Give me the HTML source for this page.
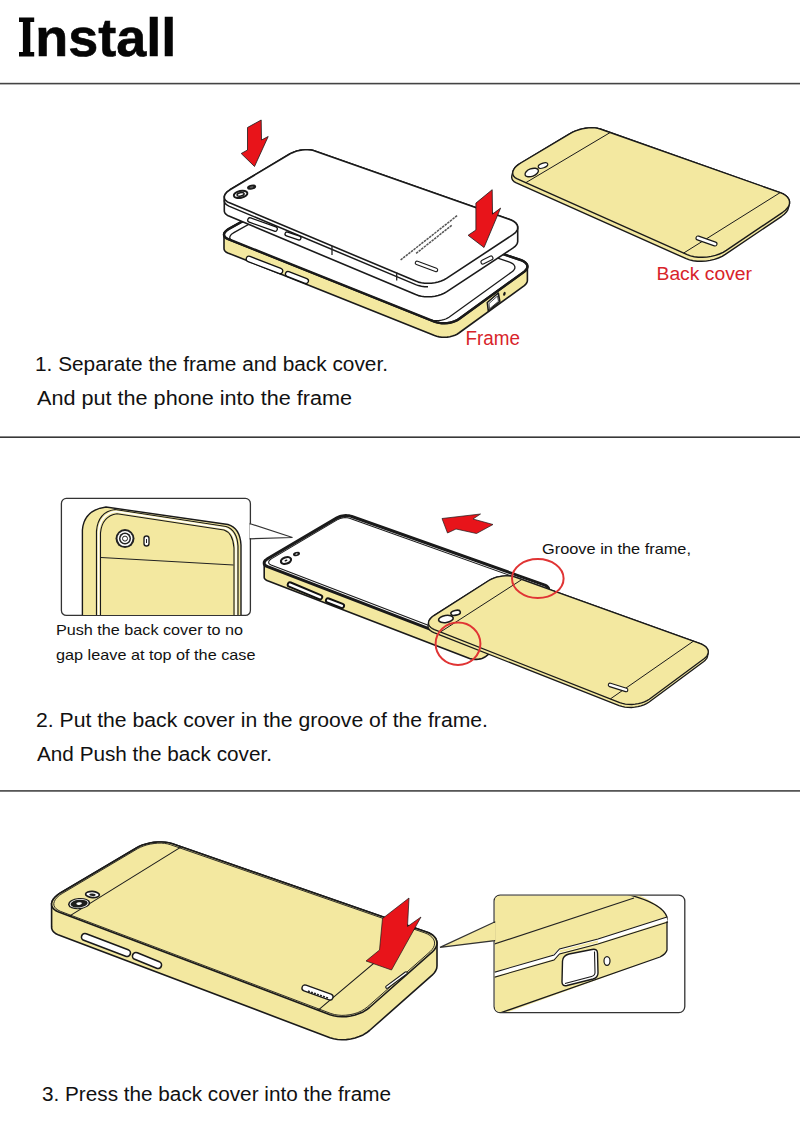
<!DOCTYPE html>
<html><head><meta charset="utf-8"><style>
html,body{margin:0;padding:0;background:#fff;}
svg{display:block}
text{font-family:"Liberation Sans",sans-serif;}
</style></head><body>
<svg width="800" height="1143" viewBox="0 0 800 1143">
<rect width="800" height="1143" fill="#fff"/>
<path d="M19,17.6 H34.2 V22 H30.3 V52 H34.2 V56.4 H19 V52 H22.9 V22 H19 Z" fill="#050505"/>
<text x="35.3" y="56.3" font-size="53" font-weight="bold" fill="#050505" stroke="#050505" stroke-width="0.6" textLength="141" lengthAdjust="spacingAndGlyphs">nstall</text>
<rect x="0" y="82.8" width="800" height="1.6" fill="#444"/>
<rect x="0" y="436.4" width="800" height="1.6" fill="#383838"/>
<rect x="0" y="790.1" width="800" height="1.6" fill="#444"/>
<text x="35" y="371.3" font-size="19.5" fill="#111" textLength="353" lengthAdjust="spacingAndGlyphs">1. Separate the frame and back cover.</text>
<text x="37" y="404.5" font-size="19.5" fill="#111" textLength="315" lengthAdjust="spacingAndGlyphs">And put the phone into the frame</text>
<text x="36" y="727" font-size="19.5" fill="#111" textLength="452" lengthAdjust="spacingAndGlyphs">2. Put the back cover in the groove of the frame.</text>
<text x="37" y="760.8" font-size="19.5" fill="#111" textLength="235" lengthAdjust="spacingAndGlyphs">And Push the back cover.</text>
<text x="42" y="1101.3" font-size="19.5" fill="#111" textLength="349" lengthAdjust="spacingAndGlyphs">3. Press the back cover into the frame</text>
<text x="656.5" y="279.6" font-size="18" fill="#d8232a" textLength="95.5" lengthAdjust="spacingAndGlyphs">Back cover</text>
<text x="465.5" y="345.3" font-size="20.5" fill="#d8232a" textLength="54.5" lengthAdjust="spacingAndGlyphs">Frame</text>
<text x="542" y="553.8" font-size="15" fill="#111" textLength="149" lengthAdjust="spacingAndGlyphs">Groove in the frame,</text>
<text x="56" y="634.8" font-size="15" fill="#111" textLength="187" lengthAdjust="spacingAndGlyphs">Push the back cover to no</text>
<text x="56" y="660.4" font-size="15" fill="#111" textLength="199.5" lengthAdjust="spacingAndGlyphs">gap leave at top of the case</text>
<path d="M224.0,234.3 L224.3,233.2 L225.0,232.1 L226.0,231.0 L227.3,229.9 L228.8,228.9 L294.2,192.5 L295.9,191.7 L297.7,190.9 L299.7,190.3 L301.8,189.9 L304.0,189.6 L306.2,189.4 L308.3,189.4 L310.3,189.6 L312.2,189.9 L313.9,190.3 L520.6,260.0 L522.6,260.8 L524.2,261.7 L525.6,262.8 L526.6,264.0 L527.2,265.2 L527.4,266.5 L527.4,280.5 L527.2,281.8 L526.6,283.1 L525.6,284.4 L524.3,285.6 L458.9,333.0 L457.1,334.2 L454.9,335.2 L452.5,336.1 L449.9,336.7 L447.2,337.1 L444.5,337.2 L441.8,337.2 L439.2,336.9 L436.7,336.3 L434.5,335.6 L227.8,252.9 L226.3,252.2 L225.3,251.4 L224.5,250.4 L224.1,249.4 L224.0,248.3Z" fill="#f3e8a0" stroke="#1a1a1a" stroke-width="1.6"/>
<path d="M434.5,321.6 L436.7,322.3 L439.2,322.9 L441.8,323.2 L444.5,323.2 L447.2,323.1 L449.9,322.7 L452.5,322.0 L454.9,321.2 L457.1,320.2 L459.0,319.0 L524.3,271.6 L525.6,270.4 L526.6,269.1 L527.2,267.8 L527.4,266.5 L527.2,265.2 L526.6,264.0 L525.6,262.8 L524.2,261.7 L522.6,260.8 L520.6,260.0 L313.9,190.3 L312.2,189.9 L310.3,189.6 L308.3,189.4 L306.2,189.4 L304.0,189.6 L301.8,189.9 L299.7,190.3 L297.7,190.9 L295.9,191.7 L294.2,192.5 L228.9,228.9 L227.3,229.9 L226.0,231.0 L225.0,232.1 L224.3,233.2 L224.0,234.3 L224.1,235.4 L224.5,236.5 L225.3,237.4 L226.4,238.2 L227.8,238.9Z" fill="#fff" stroke="#1a1a1a" stroke-width="2.2"/>
<path d="M429.1,319.4 L430.9,320.0 L432.9,320.4 L435.0,320.7 L437.2,320.7 L439.4,320.5 L441.6,320.2 L443.7,319.7 L445.7,319.0 L447.4,318.1 L449.0,317.2 L512.1,271.7 L513.3,270.8 L514.1,269.7 L514.7,268.7 L514.9,267.6 L514.8,266.5 L514.3,265.5 L513.6,264.5 L512.5,263.6 L511.2,262.9 L509.6,262.2 L313.1,195.2 L311.8,194.9 L310.3,194.6 L308.6,194.5 L306.9,194.5 L305.1,194.7 L303.3,195.0 L301.6,195.3 L299.9,195.9 L298.3,196.5 L296.9,197.2 L233.9,232.6 L232.6,233.5 L231.5,234.3 L230.6,235.3 L230.1,236.2 L229.8,237.1 L229.8,238.0 L230.1,238.9 L230.7,239.6 L231.6,240.3 L232.7,240.9Z" fill="#fff" stroke="#1a1a1a" stroke-width="1.3"/>
<path d="M434.5,321.6 L436.7,322.3 L439.2,322.9 L441.8,323.2 L444.5,323.2 L447.2,323.1 L449.9,322.7 L452.5,322.0 L454.9,321.2 L457.1,320.2 L459.0,319.0 L524.3,271.6 L525.6,270.4 L526.6,269.1 L527.2,267.8 L527.4,266.5 L527.2,265.2 L526.6,264.0 L525.6,262.8 L524.2,261.7 L522.6,260.8 L520.6,260.0 L313.9,190.3 L312.2,189.9 L310.3,189.6 L308.3,189.4 L306.2,189.4 L304.0,189.6 L301.8,189.9 L299.7,190.3 L297.7,190.9 L295.9,191.7 L294.2,192.5 L228.9,228.9 L227.3,229.9 L226.0,231.0 L225.0,232.1 L224.3,233.2 L224.0,234.3 L224.1,235.4 L224.5,236.5 L225.3,237.4 L226.4,238.2 L227.8,238.9Z" fill="none" stroke="#1a1a1a" stroke-width="2.4"/>
<rect x="-19.4" y="-2.8" width="38.7" height="5.5" rx="2.8" transform="translate(264.5,265.0) rotate(21.16)" fill="#fff" stroke="#111" stroke-width="1.3"/>
<rect x="-12.2" y="-2.5" width="24.3" height="5.0" rx="2.5" transform="translate(297.0,277.5) rotate(21.25)" fill="#fff" stroke="#111" stroke-width="1.3"/>
<path d="M487.3,302.5 L498.3,293 L499.8,301.5 L488.3,311 Z" fill="#fff" stroke="#1a1a1a" stroke-width="1.6" stroke-linejoin="round"/>
<path d="M489,303.5 L497.5,296 L498.5,301.3 L489.5,308.8 Z" fill="none" stroke="#1a1a1a" stroke-width="0.8" stroke-linejoin="round"/>
<ellipse cx="504.4" cy="293.8" rx="1.2" ry="2" transform="rotate(20 504.4 293.8)" fill="#1a1a1a"/>
<clipPath id="bc1"><rect x="0" y="0" width="428" height="400"/></clipPath>
<path d="M224.3,196.8 L224.7,195.3 L225.4,193.9 L226.6,192.4 L228.2,191.1 L230.0,189.8 L289.8,154.0 L291.9,152.9 L294.2,151.9 L296.8,151.1 L299.5,150.4 L302.3,150.0 L305.0,149.8 L307.7,149.7 L310.3,149.9 L312.7,150.3 L314.8,150.9 L509.7,219.5 L512.2,220.6 L514.3,221.8 L515.9,223.2 L517.0,224.8 L517.6,226.4 L517.7,228.1 L517.7,241.6 L517.3,243.3 L516.3,245.0 L514.8,246.7 L512.8,248.2 L446.5,291.9 L444.1,293.3 L441.2,294.5 L438.1,295.5 L434.9,296.2 L431.4,296.7 L428.0,296.8 L424.6,296.7 L421.4,296.3 L418.4,295.6 L415.7,294.6 L228.9,216.1 L227.2,215.2 L225.9,214.2 L224.9,213.0 L224.4,211.7 L224.3,210.3Z" fill="#fff" stroke="#1a1a1a" stroke-width="1.6" stroke-linejoin="round"/>
<path d="M415.7,284.6 L418.4,285.6 L421.4,286.3 L424.6,286.7 L428.0,286.8 L431.4,286.7 L434.8,286.2 L438.1,285.5 L441.2,284.5 L444.1,283.3 L446.5,281.9 L512.8,238.2 L514.8,236.7 L516.3,235.0 L517.3,233.3 L517.7,231.6 L517.6,229.9 L517.0,228.3 L515.9,226.7 L514.3,225.3 L512.2,224.1 L509.7,223.0 L314.8,154.4 L312.7,153.8 L310.3,153.4 L307.7,153.2 L305.0,153.2 L302.3,153.5 L299.5,153.9 L296.8,154.6 L294.2,155.4 L291.9,156.4 L289.7,157.5 L230.0,193.3 L228.2,194.6 L226.6,195.9 L225.4,197.4 L224.7,198.8 L224.3,200.3 L224.4,201.7 L224.9,203.0 L225.9,204.2 L227.2,205.2 L228.9,206.1Z" fill="none" stroke="#1a1a1a" stroke-width="1.5" clip-path="url(#bc1)"/>
<path d="M415.7,281.1 L418.4,282.1 L421.4,282.8 L424.6,283.2 L428.0,283.3 L431.4,283.2 L434.8,282.7 L438.1,282.0 L441.2,281.0 L444.1,279.8 L446.5,278.4 L512.8,234.7 L514.8,233.2 L516.3,231.5 L517.3,229.8 L517.7,228.1 L517.6,226.4 L517.0,224.8 L515.9,223.2 L514.3,221.8 L512.2,220.6 L509.7,219.5 L314.8,150.9 L312.7,150.3 L310.3,149.9 L307.7,149.7 L305.0,149.7 L302.3,150.0 L299.5,150.4 L296.8,151.1 L294.2,151.9 L291.9,152.9 L289.7,154.0 L230.0,189.8 L228.2,191.1 L226.6,192.4 L225.4,193.9 L224.7,195.3 L224.3,196.8 L224.4,198.2 L224.9,199.5 L225.9,200.7 L227.2,201.7 L228.9,202.6Z" fill="#fff" stroke="#1a1a1a" stroke-width="1.6" stroke-linejoin="round"/>
<rect x="-15.5" y="-2.2" width="31.1" height="4.5" rx="2.2" transform="translate(262.5,224.5) rotate(19.80)" fill="#fff" stroke="#111" stroke-width="1.3"/>
<rect x="-8.3" y="-2.0" width="16.6" height="4.0" rx="2.0" transform="translate(293.0,236.0) rotate(18.43)" fill="#fff" stroke="#111" stroke-width="1.3"/>
<line x1="332" y1="246" x2="332" y2="255" stroke="#222" stroke-width="1.3"/>
<line x1="396.7" y1="272.5" x2="396.7" y2="280.5" stroke="#222" stroke-width="1.3"/>
<ellipse cx="240.6" cy="194.4" rx="6.9" ry="3.5" transform="rotate(-12 240.6 194.4)" fill="#fff" stroke="#1a1a1a" stroke-width="2"/>
<ellipse cx="240.6" cy="194.4" rx="3.6" ry="1.7" transform="rotate(-12 240.6 194.4)" fill="#fff" stroke="#1a1a1a" stroke-width="1.5"/>
<ellipse cx="251.6" cy="187.2" rx="4.6" ry="2.4" transform="rotate(-12 251.6 187.2)" fill="#1a1a1a"/>
<ellipse cx="251.6" cy="187.2" rx="2" ry="1" transform="rotate(-12 251.6 187.2)" fill="#555"/>
<rect x="-11.9" y="-1.8" width="23.7" height="3.5" rx="1.8" transform="translate(426.5,266.5) rotate(20.22)" fill="#fff" stroke="#1a1a1a" stroke-width="1.1"/>
<rect x="-6.5" y="-2.0" width="12.9" height="4.0" rx="2.0" transform="translate(487.0,260.0) rotate(-26.57)" fill="#fff" stroke="#1a1a1a" stroke-width="1.1"/>
<line x1="400.6" y1="260" x2="457.3" y2="215.5" stroke="#555" stroke-width="1.5" stroke-dasharray="2.5 0.8"/>
<line x1="416.1" y1="253.4" x2="451.7" y2="225.3" stroke="#555" stroke-width="1.5" stroke-dasharray="2.5 0.8"/>
<polygon points="247.5,127.5 261.2,120.0 261.5,140.0 268.2,136.5 254.5,166.5 241.2,153.5 247.5,150.0" fill="#e8141a" stroke="#1a1a1a" stroke-width="0.8" stroke-linejoin="miter"/>
<polygon points="475.9,203.1 492.2,189.7 492.5,214.1 500.6,208.1 484.0,247.5 468.1,235.3 475.9,230.0" fill="#e8141a" stroke="#1a1a1a" stroke-width="0.8"/>
<path d="M511.7,177.5 L511.8,175.8 L512.8,171.8 L513.5,170.0 L514.6,168.1 L516.3,166.3 L518.3,164.6 L520.8,163.0 L570.0,133.6 L572.7,132.1 L575.6,130.8 L578.8,129.8 L582.1,128.9 L585.4,128.3 L588.7,127.9 L591.9,127.8 L595.0,127.9 L597.7,128.3 L600.2,129.0 L780.2,192.7 L783.2,193.9 L785.7,195.5 L787.6,197.3 L788.9,199.3 L789.5,201.4 L789.5,203.6 L788.5,207.6 L787.8,209.9 L786.4,212.1 L784.3,214.3 L781.7,216.3 L725.3,254.4 L722.1,256.4 L718.4,258.0 L714.4,259.4 L710.1,260.4 L705.8,261.1 L701.5,261.3 L697.2,261.2 L693.2,260.7 L689.5,259.9 L686.2,258.7 L516.3,182.9 L514.4,181.9 L513.0,180.6 L512.1,179.1Z" fill="#f3e8a0" stroke="#1a1a1a" stroke-width="1.4" stroke-linejoin="round"/>
<path d="M687.2,254.7 L690.5,255.9 L694.2,256.7 L698.2,257.2 L702.5,257.3 L706.8,257.1 L711.2,256.4 L715.4,255.4 L719.4,254.0 L723.1,252.4 L726.3,250.4 L782.7,212.3 L785.3,210.3 L787.4,208.1 L788.8,205.9 L789.5,203.6 L789.5,201.4 L788.9,199.3 L787.6,197.3 L785.7,195.5 L783.2,193.9 L780.2,192.6 L600.2,129.0 L597.7,128.3 L595.0,127.9 L591.9,127.8 L588.7,127.9 L585.4,128.3 L582.1,128.9 L578.8,129.8 L575.6,130.9 L572.7,132.1 L570.0,133.6 L520.8,163.0 L518.3,164.6 L516.3,166.3 L514.6,168.1 L513.5,170.0 L512.8,171.8 L512.7,173.5 L513.1,175.1 L514.0,176.6 L515.4,177.9 L517.3,178.9Z" fill="#f3e8a0" stroke="#1a1a1a" stroke-width="1.4" stroke-linejoin="round"/>
<line x1="525.8" y1="182.7" x2="610.2" y2="132.5" stroke="#1a1a1a" stroke-width="1"/>
<line x1="683.6" y1="253.1" x2="780.2" y2="192.6" stroke="#1a1a1a" stroke-width="1"/>
<ellipse cx="531.7" cy="172.5" rx="7" ry="3.8" transform="rotate(-20 531.7 172.5)" fill="#fff" stroke="#1a1a1a" stroke-width="1.4"/>
<ellipse cx="543" cy="165.6" rx="5" ry="2.3" transform="rotate(-20 543 165.6)" fill="#fff" stroke="#1a1a1a" stroke-width="1.2"/>
<rect x="-11.0" y="-2.0" width="22.0" height="4.0" rx="2.0" transform="translate(706.5,241.0) rotate(19.44)" fill="#fff" stroke="#1a1a1a" stroke-width="1.1"/>
<rect x="61.4" y="498.4" width="189" height="117" rx="5" fill="#fff" stroke="#333" stroke-width="1.3"/>
<clipPath id="cb2"><rect x="62" y="499" width="188" height="116" rx="4"/></clipPath>
<g clip-path="url(#cb2)">
<path d="M82.4,620 L82.4,530 Q84,510 106,507 L228,524.5 Q240,528 241,545 L241,620 Z" fill="#f3e8a0" stroke="#1a1a1a" stroke-width="1.4"/>
<path d="M96.5,620 L96.5,531 Q98,512 115,509.5 L226,526.5 Q237,530 238,546 L238,620 Z" fill="none" stroke="#1a1a1a" stroke-width="1.2"/>
<path d="M98.5,620 L98.5,532 Q100,514 116,511.6 L225,528.3 Q235,531.5 236,547 L236,620" fill="none" stroke="#fff" stroke-width="1.5"/>
<path d="M100.5,620 L100.5,533 Q102,516 117,513.7 L224,530 Q233,533 234,548 L234,620 Z" fill="#f3e8a0" stroke="#1a1a1a" stroke-width="1.1"/>
<line x1="101" y1="557.5" x2="233.5" y2="565" stroke="#222" stroke-width="1.1"/>
<circle cx="125" cy="538.6" r="9.5" fill="#222"/><circle cx="125" cy="538.6" r="7.5" fill="#fff"/><circle cx="125" cy="538.6" r="6" fill="#222"/><circle cx="125" cy="538.6" r="4.5" fill="#fff"/><circle cx="125" cy="538.6" r="2.5" fill="#fff" stroke="#222" stroke-width="1"/>
<rect x="144" y="536" width="5" height="10" rx="2.5" fill="#fff" stroke="#222" stroke-width="1.4"/><line x1="146.5" y1="539" x2="146.5" y2="543" stroke="#222" stroke-width="1"/>
</g>
<polygon points="250.2,523.7 292.5,537.5 250.2,538.8" fill="#fff" stroke="#333" stroke-width="1.2" stroke-linejoin="miter"/>
<line x1="250.4" y1="524.6" x2="250.4" y2="538" stroke="#fff" stroke-width="1.6"/>
<path d="M264.2,563.1 L264.3,562.2 L264.7,561.3 L265.4,560.4 L266.4,559.6 L267.5,558.8 L336.9,517.9 L338.1,517.3 L339.5,516.7 L341.0,516.3 L342.6,516.0 L344.2,515.7 L345.9,515.6 L347.5,515.7 L349.1,515.8 L350.5,516.1 L351.8,516.5 L544.0,584.8 L545.4,585.4 L546.5,586.0 L547.4,586.8 L548.1,587.6 L548.6,588.5 L548.7,589.5 L548.7,603.5 L548.6,604.4 L548.3,605.3 L547.7,606.2 L546.8,607.0 L486.2,656.2 L484.9,657.0 L483.5,657.8 L481.9,658.4 L480.2,658.9 L478.3,659.2 L476.5,659.4 L474.6,659.4 L472.8,659.2 L471.1,658.9 L469.6,658.4 L267.6,580.7 L266.4,580.2 L265.4,579.5 L264.7,578.8 L264.3,578.0 L264.2,577.1Z" fill="#f3e8a0" stroke="#1a1a1a" stroke-width="1.6"/>
<path d="M469.6,644.4 L471.1,644.9 L472.8,645.2 L474.6,645.4 L476.5,645.4 L478.3,645.2 L480.2,644.9 L481.9,644.4 L483.5,643.8 L484.9,643.1 L486.2,642.2 L546.8,593.0 L547.7,592.2 L548.3,591.3 L548.6,590.4 L548.7,589.5 L548.6,588.5 L548.1,587.6 L547.4,586.8 L546.5,586.0 L545.4,585.4 L544.1,584.8 L351.8,516.5 L350.5,516.1 L349.0,515.8 L347.5,515.7 L345.9,515.6 L344.2,515.7 L342.6,516.0 L341.0,516.3 L339.5,516.7 L338.1,517.3 L336.9,517.9 L267.5,558.8 L266.4,559.6 L265.4,560.4 L264.7,561.3 L264.3,562.2 L264.2,563.1 L264.3,564.0 L264.7,564.8 L265.4,565.5 L266.4,566.2 L267.6,566.7Z" fill="#fff" stroke="#1a1a1a" stroke-width="3"/>
<path d="M471.9,641.9 L473.1,642.3 L474.3,642.6 L475.7,642.7 L477.1,642.7 L478.5,642.5 L479.9,642.3 L481.2,641.9 L482.5,641.4 L483.6,640.8 L484.5,640.2 L543.1,592.9 L543.7,592.3 L544.2,591.6 L544.5,590.9 L544.6,590.1 L544.5,589.4 L544.2,588.7 L543.7,588.1 L543.0,587.5 L542.2,587.0 L541.2,586.6 L349.5,518.3 L348.5,518.0 L347.4,517.8 L346.2,517.7 L344.9,517.6 L343.7,517.7 L342.4,517.9 L341.2,518.2 L340.0,518.5 L339.0,519.0 L338.0,519.4 L271.3,558.9 L270.4,559.5 L269.7,560.2 L269.1,560.9 L268.8,561.6 L268.7,562.2 L268.7,562.9 L269.0,563.5 L269.6,564.1 L270.3,564.6 L271.1,565.0Z" fill="#fff" stroke="#1a1a1a" stroke-width="1.1"/>
<rect x="-18.5" y="-2.2" width="37.0" height="4.5" rx="2.2" transform="translate(305.0,590.8) rotate(22.62)" fill="#fff" stroke="#111" stroke-width="1.9"/>
<rect x="-9.6" y="-2.1" width="19.2" height="4.2" rx="2.1" transform="translate(335.0,603.2) rotate(21.45)" fill="#fff" stroke="#111" stroke-width="1.9"/>
<ellipse cx="286" cy="560.5" rx="5.2" ry="3.2" transform="rotate(-18 286 560.5)" fill="#fff" stroke="#1a1a1a" stroke-width="2.2"/>
<ellipse cx="286" cy="560.5" rx="1.5" ry="0.9" transform="rotate(-18 286 560.5)" fill="#1a1a1a"/>
<ellipse cx="296.5" cy="554" rx="3.6" ry="2" transform="rotate(-18 296.5 554)" fill="#1a1a1a"/>
<ellipse cx="296.5" cy="554" rx="1.2" ry="0.6" transform="rotate(-18 296.5 554)" fill="#fff"/>
<path d="M428.0,626.2 L428.2,624.6 L428.7,621.6 L429.4,620.0 L430.5,618.5 L432.0,617.0 L433.9,615.6 L489.3,580.4 L491.5,579.1 L493.9,578.1 L496.6,577.2 L499.4,576.6 L502.4,576.1 L505.3,575.9 L508.2,575.9 L511.0,576.1 L513.5,576.6 L515.9,577.3 L700.3,643.7 L702.6,644.7 L704.7,645.9 L706.3,647.3 L707.4,648.8 L708.1,650.5 L708.3,652.2 L707.8,655.2 L707.4,656.9 L706.6,658.6 L705.3,660.2 L703.5,661.7 L648.8,702.2 L646.5,703.6 L643.9,704.9 L641.0,705.9 L637.9,706.7 L634.6,707.2 L631.3,707.5 L628.0,707.4 L624.8,707.1 L621.9,706.4 L619.1,705.6 L433.9,632.6 L431.9,631.6 L430.3,630.5 L429.1,629.1 L428.3,627.7Z" fill="#f3e8a0" stroke="#1a1a1a" stroke-width="1.3" stroke-linejoin="round"/>
<path d="M619.7,702.6 L622.4,703.4 L625.3,704.1 L628.5,704.4 L631.8,704.5 L635.1,704.2 L638.4,703.7 L641.5,702.9 L644.4,701.9 L647.0,700.6 L649.3,699.2 L704.0,658.7 L705.8,657.2 L707.1,655.6 L707.9,653.9 L708.3,652.2 L708.1,650.5 L707.4,648.8 L706.3,647.3 L704.7,645.9 L702.6,644.7 L700.3,643.7 L515.9,577.3 L513.6,576.6 L511.0,576.1 L508.2,575.9 L505.3,575.9 L502.4,576.1 L499.4,576.6 L496.6,577.2 L493.9,578.1 L491.5,579.1 L489.3,580.3 L433.9,615.6 L432.0,617.0 L430.5,618.5 L429.4,620.0 L428.7,621.6 L428.5,623.2 L428.8,624.7 L429.5,626.1 L430.8,627.5 L432.4,628.6 L434.4,629.6Z" fill="#f3e8a0" stroke="#1a1a1a" stroke-width="1.3" stroke-linejoin="round"/>
<line x1="440.4" y1="632.0" x2="521.9" y2="579.5" stroke="#1a1a1a" stroke-width="1"/>
<line x1="610.4" y1="698.9" x2="693.4" y2="641.2" stroke="#1a1a1a" stroke-width="1"/>
<ellipse cx="445.9" cy="619" rx="7.4" ry="3.6" transform="rotate(-9 445.9 619)" fill="#fff" stroke="#1a1a1a" stroke-width="1.6"/>
<ellipse cx="455.6" cy="612.8" rx="4.8" ry="2.4" transform="rotate(-12 455.6 612.8)" fill="#fff" stroke="#1a1a1a" stroke-width="1.6"/>
<rect x="-10.1" y="-1.8" width="20.3" height="3.5" rx="1.8" transform="translate(618.0,687.5) rotate(17.35)" fill="#fff" stroke="#1a1a1a" stroke-width="1.1"/>
<polygon points="442.0,518.5 480.5,514.0 473.0,519.0 493.0,524.5 476.5,533.5 456.0,529.0 447.5,533.0" fill="#e8141a" stroke="#1a1a1a" stroke-width="0.7"/>
<ellipse cx="537.8" cy="578.5" rx="25.8" ry="19.5" transform="rotate(0 537.8 578.5)" fill="none" stroke="#e03434" stroke-width="2"/>
<ellipse cx="458" cy="643.8" rx="22.4" ry="21.2" transform="rotate(0 458 643.8)" fill="none" stroke="#e03434" stroke-width="2"/>
<path d="M51.6,903.4 L52.2,901.2 L53.5,899.0 L55.4,896.8 L57.9,894.6 L60.8,892.7 L136.0,848.2 L139.1,846.5 L142.5,845.1 L146.2,844.0 L150.0,843.0 L153.9,842.4 L157.9,842.0 L161.7,842.0 L165.3,842.2 L168.7,842.8 L171.7,843.6 L426.5,931.9 L429.5,933.1 L432.1,934.7 L434.1,936.5 L435.7,938.5 L436.6,940.7 L437.0,943.0 L437.0,966.0 L436.7,968.4 L435.7,970.7 L434.2,973.0 L432.1,975.2 L369.5,1030.5 L366.5,1032.8 L363.1,1034.9 L359.2,1036.6 L355.1,1038.0 L350.7,1039.0 L346.3,1039.6 L341.9,1039.7 L337.6,1039.5 L333.6,1038.8 L330.0,1037.7 L58.7,935.1 L56.0,933.8 L53.9,932.2 L52.5,930.5 L51.7,928.5 L51.6,926.4Z" fill="#f3e8a0" stroke="#1a1a1a" stroke-width="1.6" stroke-linejoin="round"/>
<path d="M330.0,1014.7 L333.6,1015.8 L337.6,1016.5 L341.9,1016.7 L346.3,1016.6 L350.7,1016.0 L355.1,1015.0 L359.2,1013.6 L363.1,1011.9 L366.5,1009.8 L369.5,1007.5 L432.1,952.2 L434.2,950.0 L435.7,947.7 L436.7,945.4 L437.0,943.0 L436.6,940.7 L435.7,938.5 L434.1,936.5 L432.1,934.7 L429.5,933.2 L426.5,931.9 L171.7,843.6 L168.7,842.8 L165.3,842.2 L161.7,842.0 L157.9,842.0 L153.9,842.4 L150.0,843.0 L146.2,844.0 L142.5,845.1 L139.1,846.5 L136.0,848.2 L60.8,892.7 L57.9,894.6 L55.4,896.8 L53.5,899.0 L52.2,901.2 L51.6,903.4 L51.7,905.5 L52.5,907.5 L53.9,909.2 L56.0,910.8 L58.7,912.1Z" fill="#f3e8a0" stroke="#1a1a1a" stroke-width="1.6" stroke-linejoin="round"/>
<path d="M330.9,1013.5 L334.3,1014.5 L338.0,1015.1 L341.9,1015.4 L345.9,1015.2 L350.0,1014.7 L354.0,1013.8 L357.8,1012.6 L361.3,1011.0 L364.4,1009.1 L367.2,1007.1 L430.2,951.5 L432.1,949.5 L433.5,947.4 L434.3,945.3 L434.6,943.1 L434.3,941.0 L433.4,939.0 L431.9,937.2 L430.0,935.5 L427.6,934.1 L424.8,932.9 L170.4,844.7 L167.6,843.9 L164.5,843.4 L161.2,843.1 L157.7,843.2 L154.1,843.5 L150.5,844.1 L146.9,844.9 L143.6,846.0 L140.4,847.3 L137.6,848.7 L62.2,893.5 L59.5,895.3 L57.2,897.3 L55.5,899.3 L54.4,901.3 L53.8,903.3 L53.9,905.3 L54.7,907.1 L56.0,908.7 L58.0,910.1 L60.4,911.3Z" fill="none" stroke="#1a1a1a" stroke-width="0.9"/>
<line x1="69.4" y1="916.1" x2="181.2" y2="846.9" stroke="#1a1a1a" stroke-width="1.1"/>
<line x1="318.2" y1="1010.2" x2="415.5" y2="928.1" stroke="#1a1a1a" stroke-width="1.1"/>
<ellipse cx="79.1" cy="903.6" rx="11.2" ry="5.6" transform="rotate(-5 79.1 903.6)" fill="#1e1e1e"/>
<ellipse cx="79.1" cy="903.6" rx="9.6" ry="4.5" transform="rotate(-5 79.1 903.6)" fill="#fff"/>
<ellipse cx="79.1" cy="903.6" rx="8.6" ry="3.9" transform="rotate(-5 79.1 903.6)" fill="#1e1e1e"/>
<ellipse cx="79.1" cy="903.6" rx="2.8" ry="1.3" transform="rotate(-5 79.1 903.6)" fill="#fff"/>
<ellipse cx="92.5" cy="894.5" rx="6.9" ry="3.1" transform="rotate(4 92.5 894.5)" fill="#fff" stroke="#1a1a1a" stroke-width="1.7"/>
<ellipse cx="92.5" cy="894.8" rx="3.2" ry="1.3" transform="rotate(4 92.5 894.8)" fill="#222"/>
<rect x="-26.0" y="-3.5" width="51.9" height="7.0" rx="3.5" transform="translate(106.0,945.0) rotate(20.85)" fill="#fff" stroke="#1a1a1a" stroke-width="1.6"/>
<rect x="-15.4" y="-3.5" width="30.8" height="7.0" rx="3.5" transform="translate(147.0,960.5) rotate(22.25)" fill="#fff" stroke="#1a1a1a" stroke-width="1.6"/>
<rect x="-16.3" y="-3.0" width="32.6" height="6.0" rx="3.0" transform="translate(317.5,992.5) rotate(19.80)" fill="#fff" stroke="#1a1a1a" stroke-width="1.3"/>
<line x1="308" y1="991" x2="328" y2="998" stroke="#222" stroke-width="1.4" stroke-dasharray="2 1.2"/>
<rect x="-13.1" y="-1.2" width="26.1" height="2.5" rx="1.2" transform="translate(396.5,980.0) rotate(-36.38)" fill="#fff" stroke="#1a1a1a" stroke-width="1.1"/>
<polygon points="382.5,918.5 409.0,898.0 407.5,926.5 421.0,917.0 391.5,970.0 366.0,961.0 379.5,950.0" fill="#e8141a" stroke="#1a1a1a" stroke-width="0.7"/>
<rect x="494.1" y="895.1" width="190.7" height="117.5" rx="6" fill="#fff" stroke="#333" stroke-width="1.3"/>
<clipPath id="cb3"><rect x="494.8" y="895.8" width="189.3" height="116.1" rx="5"/></clipPath>
<g clip-path="url(#cb3)">
<path d="M490,890 L626,890 Q662,903 667,917 L667,950 Q666,954 660,957 L500,1015 L490,1015 Z" fill="#f3e8a0" stroke="none"/>
<path d="M626,894 Q662,903 667,917 L667,950 Q666,954 660,957 L500,1013" fill="none" stroke="#1a1a1a" stroke-width="1.3"/>
<line x1="490" y1="945.5" x2="634" y2="898" stroke="#222" stroke-width="1.1"/>
<path d="M490,975.5 L554,957 L559.5,951 L598,941 L667,919" fill="none" stroke="#fff" stroke-width="4.2"/>
<path d="M490,973.5 L554,955 L559.5,949 L598,939 L667,917" fill="none" stroke="#1a1a1a" stroke-width="1.1"/>
<path d="M490,978.5 L554,960 L559.5,954 L598,944 L668,922" fill="none" stroke="#1a1a1a" stroke-width="1.1"/>
<path d="M559.5,951.5 L598,941.5" fill="none" stroke="#f3e8a0" stroke-width="2.2"/>
</g>
<path d="M562.5,961 Q563,955.5 569,954 L592,949.5 Q597.5,948.5 597.5,953 L598,973 Q598,977.5 593,979 L567,985.5 Q562,986.5 562,982 Z" fill="#fff" stroke="#1a1a1a" stroke-width="1.4"/>
<path d="M594.5,951.5 L595,972.5 Q595,975.5 591.5,976.5 L565,983.5" fill="none" stroke="#1a1a1a" stroke-width="1.1"/>
<ellipse cx="607" cy="961" rx="3" ry="4.3" transform="rotate(0 607 961)" fill="#fff" stroke="#1a1a1a" stroke-width="1.2"/>
<polygon points="494.6,922.0 440.0,947.4 494.6,940.7" fill="#f3e8a0" stroke="#333" stroke-width="1.2" stroke-linejoin="miter"/>
<line x1="494.6" y1="923" x2="494.6" y2="940" stroke="#f3e8a0" stroke-width="2"/>
</svg>
</body></html>
